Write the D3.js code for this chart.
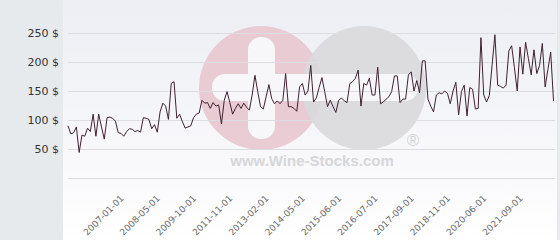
<!DOCTYPE html>
<html>
<head>
<meta charset="utf-8">
<script src="https://cdn.jsdelivr.net/npm/d3@7/dist/d3.min.js"></script>
<style>
  html, body { margin: 0; padding: 0; background: #fff; }
  svg { display: block; }
</style>
</head>
<body>
<svg id="chart" width="560" height="240"></svg>
<script>
// ---- data ----
const values = [
  90, 76, 78, 88, 44, 74, 72, 86, 80, 110,
  72, 110, 88, 67, 104, 105, 103, 98, 78, 77,
  72, 80, 85, 84, 80, 82, 79, 104, 103, 101,
  85, 92, 79, 114, 129, 124, 101, 163, 166, 103,
  110, 97, 86, 88, 90, 104, 110, 112, 134, 129,
  130, 120, 130, 124, 126, 93, 134, 149, 130, 110,
  120, 128, 120, 129, 122, 117, 143, 177, 149, 123,
  119, 140, 161, 137, 128, 133, 128, 134, 180, 123,
  123, 120, 115, 157, 163, 143, 150, 194, 131, 138,
  156, 173, 149, 123, 134, 123, 113, 134, 138, 133,
  130, 163, 166, 172, 186, 124, 163, 160, 172, 143,
  143, 191, 128, 131, 136, 140, 149, 176, 176, 130,
  136, 136, 178, 183, 150, 168, 147, 202, 202, 136,
  124, 114, 143, 147, 145, 150, 146, 128, 150, 165,
  109, 149, 160, 107, 156, 153, 119, 120, 242, 143,
  131, 142, 195, 247, 160, 158, 155, 160, 219, 228,
  190, 150, 226, 179, 234, 206, 178, 221, 180, 194,
  232, 157, 187, 217, 133
];
const tickLabels = ["2007-01-01", "2008-05-01", "2009-10-01", "2011-11-01", "2013-02-01", "2014-05-01",
                    "2015-06-01", "2016-07-01", "2017-09-01", "2018-11-01", "2020-06-01", "2021-09-01"];
const tickIndex = [20, 33, 46, 59, 72, 85, 98, 111, 124, 137, 150, 163];
const yTicks = [0, 50, 100, 150, 200, 250];

// ---- drawing ----
const svg = d3.select("#chart");
const W = 560, H = 240;

const defs = svg.append("defs");
const grad = defs.append("linearGradient").attr("id", "bg").attr("x1", 0).attr("y1", 0).attr("x2", 0).attr("y2", 1);
grad.append("stop").attr("offset", "0%").attr("stop-color", "#eceef3");
grad.append("stop").attr("offset", "75%").attr("stop-color", "#fafafc");
grad.append("stop").attr("offset", "100%").attr("stop-color", "#ffffff");

// left panel
svg.append("rect").attr("x", 0).attr("y", 0).attr("width", 63).attr("height", H).attr("fill", "#e6eaed");
// plot panel
svg.append("rect").attr("x", 63).attr("y", 0).attr("width", 495).attr("height", H).attr("fill", "url(#bg)");
svg.append("rect").attr("x", 558).attr("y", 0).attr("width", 2).attr("height", H).attr("fill", "#e9ecef");
svg.append("line").attr("x1", 557.5).attr("x2", 557.5).attr("y1", 0).attr("y2", H).attr("stroke", "#e2e4e8");

// watermark
const wm = svg.append("g").attr("class", "watermark");
wm.append("circle").attr("cx", 261).attr("cy", 88).attr("r", 62).attr("fill", "#e8c7cf").attr("opacity", 0.9);
wm.append("circle").attr("cx", 364).attr("cy", 88).attr("r", 62).attr("fill", "#d9d9db").attr("opacity", 0.9);
wm.append("rect").attr("x", 212).attr("y", 74).attr("width", 206).attr("height", 27).attr("rx", 13)
  .attr("fill", "#f7f7f9");
wm.append("rect").attr("x", 248).attr("y", 37).attr("width", 27).attr("height", 102).attr("rx", 13)
  .attr("fill", "#f7f7f9");
wm.append("text").attr("x", 312).attr("y", 166).attr("text-anchor", "middle")
  .attr("font-family", "Liberation Sans, Arial, sans-serif").attr("font-weight", "bold")
  .attr("font-size", 15).attr("fill", "#d6d6d8").text("www.Wine-Stocks.com");
wm.append("text").attr("x", 413).attr("y", 146).attr("text-anchor", "middle")
  .attr("font-family", "Liberation Sans, Arial, sans-serif")
  .attr("font-size", 17).attr("fill", "#d3d3d5").text("®");

// scales
const x = d3.scaleLinear().domain([0, values.length - 1]).range([68, 553.5]);
const y = d3.scaleLinear().domain([0, 250]).range([178, 33]);

// y axis + gridlines
const yAxis = d3.axisLeft(y).tickValues(yTicks).tickSize(-(555 - 68)).tickPadding(9)
  .tickFormat(d => d === 0 ? "" : d + " $");
const gy = svg.append("g").attr("transform", "translate(68,0)").call(yAxis);
gy.select(".domain").remove();
gy.selectAll(".tick line").attr("stroke", "#dcdde0").attr("shape-rendering", "crispEdges");
gy.selectAll(".tick text").attr("font-family", "DejaVu Sans, sans-serif").attr("font-size", 11)
  .attr("fill", "#333");

// x axis
const xAxis = d3.axisBottom(x).tickValues(tickIndex).tickSize(0)
  .tickFormat((d, i) => tickLabels[i]);
const gx = svg.append("g").attr("transform", "translate(0,199)").call(xAxis);
gx.select(".domain").remove();
gx.selectAll(".tick text")
  .attr("font-family", "DejaVu Sans, sans-serif").attr("font-size", 9).attr("fill", "#6a6a6a")
  .attr("text-anchor", "end").attr("dy", 0).attr("y", 0).attr("x", 0)
  .attr("transform", "rotate(-45)");

// line
const line = d3.line().x((d, i) => x(i)).y(d => y(d));
svg.append("path").datum(values).attr("d", line).attr("fill", "none")
  .attr("stroke", "#3f2130").attr("stroke-width", 1).attr("stroke-linejoin", "round");
</script>
</body>
</html>
